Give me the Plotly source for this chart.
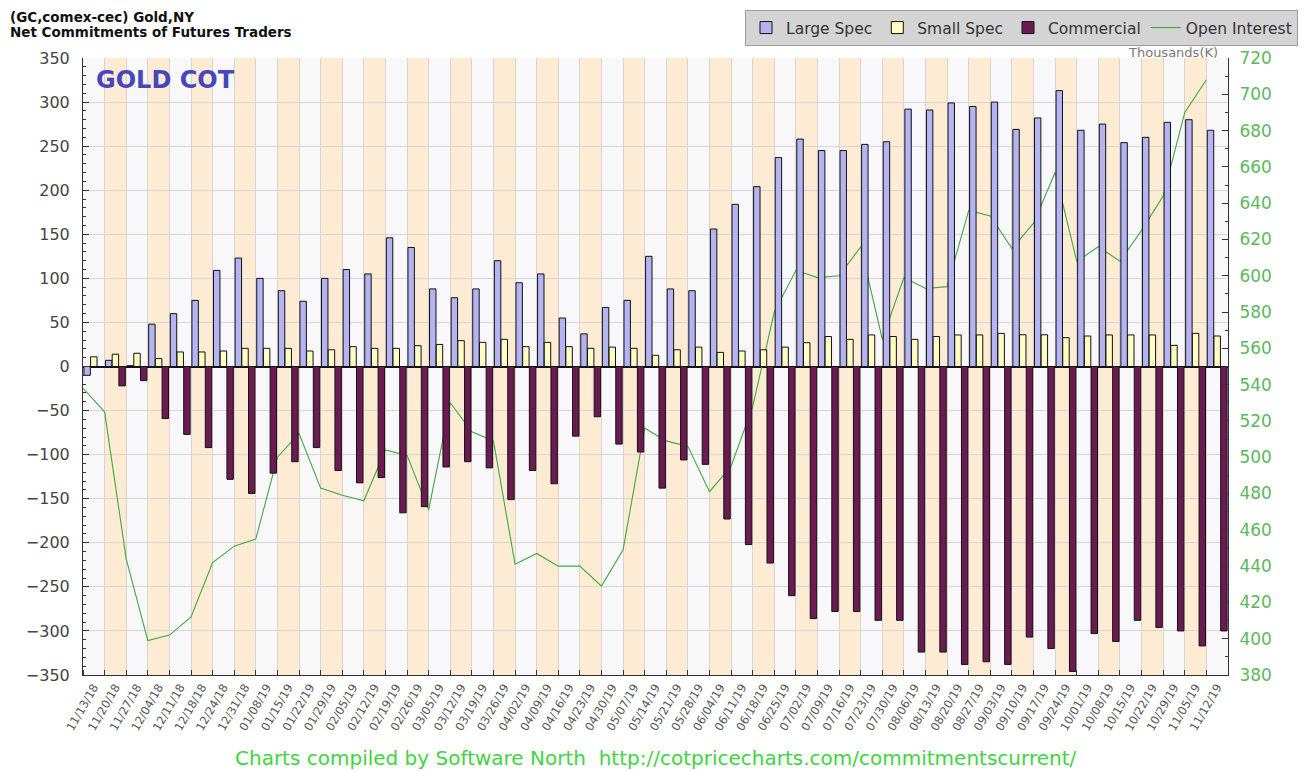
import plotly.graph_objects as go

dates = ["11/13/18", "11/20/18", "11/27/18", "12/04/18", "12/11/18", "12/18/18", "12/24/18", "12/31/18",
         "01/08/19", "01/15/19", "01/22/19", "01/29/19", "02/05/19", "02/12/19", "02/19/19", "02/26/19",
         "03/05/19", "03/12/19", "03/19/19", "03/26/19", "04/02/19", "04/09/19", "04/16/19", "04/23/19",
         "04/30/19", "05/07/19", "05/14/19", "05/21/19", "05/28/19", "06/04/19", "06/11/19", "06/18/19",
         "06/25/19", "07/02/19", "07/09/19", "07/16/19", "07/23/19", "07/30/19", "08/06/19", "08/13/19",
         "08/20/19", "08/27/19", "09/03/19", "09/10/19", "09/17/19", "09/24/19", "10/01/19", "10/08/19",
         "10/15/19", "10/22/19", "10/29/19", "11/05/19", "11/12/19"]

large_spec = [-10, 7, 1, 48, 60, 75, 109, 123, 100, 86, 74, 100, 110, 105, 146, 135, 88, 78, 88, 120,
              95, 105, 55, 37, 67, 75, 125, 88, 86, 156, 184, 204, 237, 258, 245, 245, 252, 255, 292,
              291, 299, 295, 300, 269, 282, 313, 268, 275, 254, 260, 277, 280, 268]

small_spec = [11, 14, 15, 9, 16.5, 16.5, 17.6, 20.6, 20.6, 20.6, 17.6, 19, 22.5, 20.6, 20.6, 23.6, 25,
              29.3, 27.4, 30.8, 22.5, 27.4, 22.5, 20.6, 22, 20.6, 12.7, 19, 22, 16, 17.6, 19, 22, 27,
              34, 30.8, 35.8, 34, 30.8, 34, 35.8, 35.8, 37.6, 36, 36, 32.7, 34.6, 35.8, 35.8, 35.8, 24,
              37.6, 34.6]

commercial = [None, -22, -16, -59, -77, -92, -128, -144, -121, -108, -92, -118, -132, -126, -166, -159,
              -114, -108, -115, -151, -118, -133, -79, -57, -88, -97, -138, -106, -111, -173, -202,
              -223, -260, -286, -278, -278, -288, -288, -324, -324, -338, -335, -338, -307, -320, -346,
              -303, -312, -288, -296, -300, -317, -300]

open_interest = [538, 525, 444, 399, 402, 412, 442, 451, 455, 500, 513, 483, 479, 476, 504, 501, 471,
                 530, 514, 509, 441, 447, 440, 440, 429, 449, 516, 509, 506, 481, 495, 528, 580, 603,
                 599, 600, 616, 565, 599, 593, 594, 636, 633, 615, 629, 657, 608, 616, 608, 625, 644,
                 690, 708]

left_ticks = list(range(-350, 351, 50))
right_ticks = list(range(380, 721, 20))

n = len(dates)
idx = list(range(n))
oi_x = [i - 0.5 for i in idx]  # open interest is plotted at week boundaries

PEACH = "#fdebd3"
WHITE = "#f8f8fa"
GREEN_TXT = "#5cb85c"
FONT = "DejaVu Sans"

# figure geometry (page body adds an 8px offset)
W, H = 1303, 763
L, R, T, B = 75, 83, 50, 96
PW, PH = W - L - R, H - T - B


def px(xf):
    return (xf - L) / PW


def py(yf):
    return 1 - (yf - T) / PH


fig = go.Figure()

fig.add_trace(go.Bar(x=idx, y=large_spec, name="Large Spec", yaxis="y2",
                     marker=dict(color="#b4b4f2", line=dict(color="#111111", width=1))))
fig.add_trace(go.Bar(x=idx, y=small_spec, name="Small Spec", yaxis="y2",
                     marker=dict(color="#fdfdc4", line=dict(color="#111111", width=1))))
fig.add_trace(go.Bar(x=idx, y=commercial, name="Commercial", yaxis="y2",
                     marker=dict(color="#6c1a52", line=dict(color="#111111", width=1))))
fig.add_trace(go.Scatter(x=oi_x, y=open_interest, name="Open Interest", yaxis="y",
                         mode="lines", line=dict(color="#3fa83f", width=1.1)))

shapes = []
for i in idx:
    shapes.append(dict(type="rect", xref="x", yref="paper", x0=i - 0.5, x1=i + 0.5, y0=0, y1=1,
                       fillcolor=PEACH if i % 2 else WHITE, line=dict(width=0), layer="below"))

annotations = [
    dict(text="<b>(GC,comex-cec) Gold,NY</b>", xref="paper", yref="paper",
         x=px(1), y=py(0), xanchor="left", yanchor="top", borderpad=0,
         showarrow=False, font=dict(family=FONT, size=13.5, color="#111111")),
    dict(text="<b>Net Commitments of Futures Traders</b>", xref="paper", yref="paper",
         x=px(1), y=py(23.8), xanchor="left", yanchor="middle", borderpad=0,
         showarrow=False, font=dict(family=FONT, size=13.5, color="#111111")),
    dict(text="Thousands(K)", xref="paper", yref="paper",
         x=px(1212), y=py(45), xanchor="right", yanchor="middle",
         showarrow=False, font=dict(family=FONT, size=13, color="#777777")),
    dict(text="<b>GOLD COT</b>", xref="paper", yref="paper",
         x=px(86), y=py(72), xanchor="left", yanchor="middle",
         showarrow=False, font=dict(family=FONT, size=24, color="#4646bd")),
    dict(text="Charts compiled by Software North  http://cotpricecharts.com/commitmentscurrent/",
         xref="paper", yref="paper", x=px(647), y=py(750),
         xanchor="center", yanchor="middle", showarrow=False,
         font=dict(family=FONT, size=20, color="#3fd43f")),
]

fig.update_layout(
    width=W, height=H,
    margin=dict(l=L, r=R, t=T, b=B, autoexpand=False),
    paper_bgcolor="white", plot_bgcolor="white",
    barmode="group", bargap=0.07, bargroupgap=0.04,
    font=dict(family=FONT, color="#333333"),
    showlegend=True,
    legend=dict(orientation="h", x=px(737), y=py(2),
                xanchor="left", yanchor="top", bgcolor="#d4d4d4", bordercolor="#9a9a9a",
                borderwidth=1, font=dict(family=FONT, size=15.5, color="#333333"),
                itemwidth=30),
    shapes=shapes,
    annotations=annotations,
    xaxis=dict(range=[-0.5, n - 0.5], tickmode="array", tickvals=idx, ticktext=dates,
               tickangle=-60, ticks="", showgrid=False, zeroline=False,
               tickfont=dict(family=FONT, size=11.5, color="#555555"),
               showline=True, linecolor="#333333", linewidth=1,
               minor=dict(tickmode="array", tickvals=[i - 0.5 for i in range(n + 1)],
                          ticks="inside", ticklen=5, tickcolor="#333333",
                          showgrid=True, gridcolor="#d9d3cc", gridwidth=1)),
    yaxis=dict(side="right", range=[380, 720], tickmode="array", tickvals=right_ticks,
               ticks="inside", ticklen=6, tickcolor="#333333", showgrid=False, zeroline=False,
               showline=True, linecolor="#333333", linewidth=1, ticklabelstandoff=7,
               tickfont=dict(family=FONT, size=17, color=GREEN_TXT),
               minor=dict(dtick=10, ticks="inside", ticklen=3, tickcolor="#333333")),
    yaxis2=dict(side="left", overlaying="y", range=[-350, 350], tickmode="array",
                tickvals=left_ticks, ticks="inside", ticklen=6, tickcolor="#333333",
                showgrid=True, gridcolor="#d6d6d6", gridwidth=1,
                zeroline=True, zerolinecolor="#111111", zerolinewidth=2,
                showline=True, linecolor="#333333", linewidth=1, ticklabelstandoff=9,
                tickfont=dict(family=FONT, size=16, color="#444444"),
                minor=dict(dtick=10, ticks="inside", ticklen=3, tickcolor="#333333")),
)

fig.write_html("out.html")
